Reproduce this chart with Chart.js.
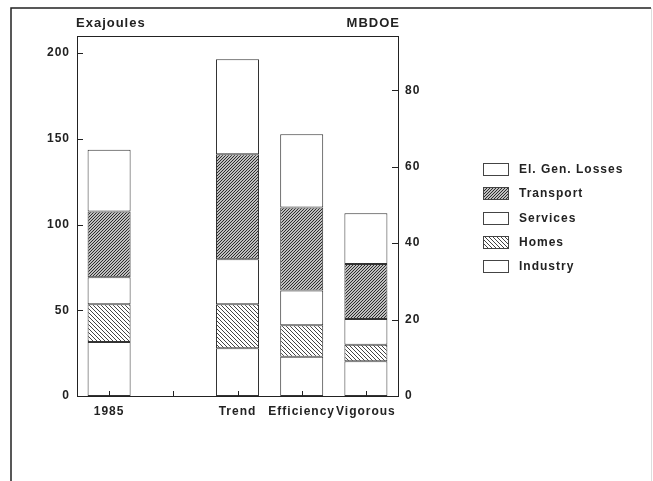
<!DOCTYPE html>
<html><head><meta charset="utf-8">
<script src="https://cdn.jsdelivr.net/npm/chart.js@4"></script>
<style>html,body{margin:0;padding:0;background:#fff}canvas{display:block}</style>
</head><body>
<canvas id="c" width="653" height="481"></canvas>
<script>
const categories = ['1985', '', 'Trend', 'Efficiency', 'Vigorous'];
const industry  = [31.5, null, 27.8, 22.9, 20.2];
const homes     = [22.0, null, 25.7, 18.3, 9.7];
const services  = [15.8, null, 26.3, 20.3, 15.0];
const transport = [38.3, null, 61.2, 48.4, 32.1];
const elGen     = [36.1, null, 55.5, 42.8, 29.6];
const seriesNames = ['Industry', 'Homes', 'Services', 'Transport', 'El. Gen. Losses'];
const leftTicksStep = 50, leftMax = 210;
const rightTicksStep = 20, rightMax = 94.2;

const FONT = 'Liberation Sans, Arial, sans-serif';
const INK = '#222';

function hatch(dir, size, lw, color) {
  const c = document.createElement('canvas');
  c.width = c.height = size;
  const g = c.getContext('2d');
  g.fillStyle = '#fff'; g.fillRect(0, 0, size, size);
  g.strokeStyle = color; g.lineWidth = lw;
  g.beginPath();
  if (dir > 0) {
    g.moveTo(-1, size + 1); g.lineTo(size + 1, -1);
    g.moveTo(-1, 1); g.lineTo(1, -1);
    g.moveTo(size - 1, size + 1); g.lineTo(size + 1, size - 1);
  } else {
    g.moveTo(-1, -1); g.lineTo(size + 1, size + 1);
    g.moveTo(size - 1, -1); g.lineTo(size + 1, 1);
    g.moveTo(-1, size - 1); g.lineTo(1, size + 1);
  }
  g.stroke();
  return g.createPattern(c, 'repeat');
}
const transportFill = hatch(1, 3, 1.1, '#222');
const homesFill = hatch(-1, 4, 1, '#444');

const fills = ['#fff', homesFill, '#fff', transportFill, '#fff'];
const values = [industry, homes, services, transport, elGen];

const datasets = values.map((v, i) => ({
  label: seriesNames[i],
  data: v,
  backgroundColor: fills[i],
  borderColor: '#333',
  borderWidth: 1,
  borderSkipped: false,
  barPercentage: 0.67,
  categoryPercentage: 1.0,
  yAxisID: 'y'
}));
// dummy dataset to bind the right (MBDOE) axis
datasets.push({ label: '_mbdoe', data: [], yAxisID: 'y2' });

const spacing = {
  id: 'spacing',
  beforeLayout(c) { c.ctx.letterSpacing = '1px'; },
  beforeDraw(c) { c.ctx.letterSpacing = '1px'; }
};

const inwardTicks = {
  id: 'inwardTicks',
  afterDatasetsDraw(chart) {
    const ctx = chart.ctx;
    const { x, y, y2 } = chart.scales;
    ctx.save();
    ctx.strokeStyle = INK; ctx.lineWidth = 1;
    ctx.beginPath();
    x.ticks.forEach((t, i) => {
      const px = Math.round(x.getPixelForTick(i)) + 0.5;
      ctx.moveTo(px, x.top); ctx.lineTo(px, x.top - 5);
    });
    y.ticks.forEach((t, i) => {
      const py = Math.round(y.getPixelForTick(i)) + 0.5;
      ctx.moveTo(y.right, py); ctx.lineTo(y.right + 6, py);
    });
    y2.ticks.forEach((t, i) => {
      const py = Math.round(y2.getPixelForTick(i)) + 0.5;
      ctx.moveTo(y2.left, py); ctx.lineTo(y2.left - 6, py);
    });
    ctx.stroke();
    ctx.restore();
  }
};

const decor = {
  id: 'decor',
  afterDraw(chart) {
    const ctx = chart.ctx, a = chart.chartArea;
    ctx.save();
    ctx.letterSpacing = '1px';
    // plot box top
    ctx.strokeStyle = INK; ctx.lineWidth = 1;
    ctx.beginPath(); ctx.moveTo(a.left, a.top + 0.5); ctx.lineTo(a.right, a.top + 0.5); ctx.stroke();
    // outer frame
    ctx.lineWidth = 1.5; ctx.strokeStyle = '#222';
    ctx.beginPath(); ctx.moveTo(11, 481); ctx.lineTo(11, 8); ctx.lineTo(651, 8); ctx.stroke();
    ctx.lineWidth = 1; ctx.strokeStyle = '#ddd';
    ctx.beginPath(); ctx.moveTo(651.5, 8); ctx.lineTo(651.5, 481); ctx.stroke();
    // axis titles
    ctx.fillStyle = INK;
    ctx.font = 'bold 13px ' + FONT;
    ctx.textBaseline = 'middle';
    ctx.textAlign = 'left';
    ctx.fillText('Exajoules', 76, 23);
    ctx.textAlign = 'right';
    ctx.fillText('MBDOE', 400, 23);
    // legend
    ctx.textAlign = 'left';
    ctx.font = 'bold 12px ' + FONT;
    const ds = chart.data.datasets.filter(d => !d.label.startsWith('_')).slice().reverse();
    ds.forEach((d, i) => {
      const y = Math.round(169 + i * 24.3);
      ctx.fillStyle = d.backgroundColor;
      ctx.fillRect(483, y - 6, 25, 12);
      ctx.strokeStyle = '#444'; ctx.lineWidth = 1;
      ctx.strokeRect(483.5, y - 5.5, 25, 12);
      ctx.fillStyle = INK;
      ctx.fillText(d.label, 519, y + 1);
    });
    ctx.restore();
  }
};

new Chart(document.getElementById('c'), {
  type: 'bar',
  data: { labels: categories, datasets },
  options: {
    responsive: false,
    animation: false,
    devicePixelRatio: 1,
    layout: { padding: { left: 0, right: 215, top: 36, bottom: 55 } },
    plugins: { legend: { display: false }, tooltip: { enabled: false } },
    scales: {
      x: {
        stacked: true,
        offset: true,
        grid: { display: false, drawTicks: false },
        border: { display: true, color: INK, width: 1 },
        ticks: { color: INK, font: { family: FONT, size: 12, weight: 'bold' }, padding: 8, maxRotation: 0, autoSkip: false },
        afterFit(s) { s.height = 30; }
      },
      y: {
        stacked: true,
        position: 'left',
        min: 0, max: leftMax,
        grid: { display: false, drawTicks: false },
        border: { display: true, color: INK, width: 1 },
        ticks: { stepSize: leftTicksStep, includeBounds: false, color: INK, font: { family: FONT, size: 12, weight: 'bold' }, padding: 7 },
        afterFit(s) { s.width = 77; }
      },
      y2: {
        position: 'right',
        min: 0, max: rightMax,
        grid: { display: false, drawTicks: false },
        border: { display: true, color: INK, width: 1 },
        ticks: { stepSize: rightTicksStep, includeBounds: false, color: INK, font: { family: FONT, size: 12, weight: 'bold' }, padding: 7 },
        afterFit(s) { s.width = 40; }
      }
    }
  },
  plugins: [spacing, inwardTicks, decor]
});
</script>
</body></html>
